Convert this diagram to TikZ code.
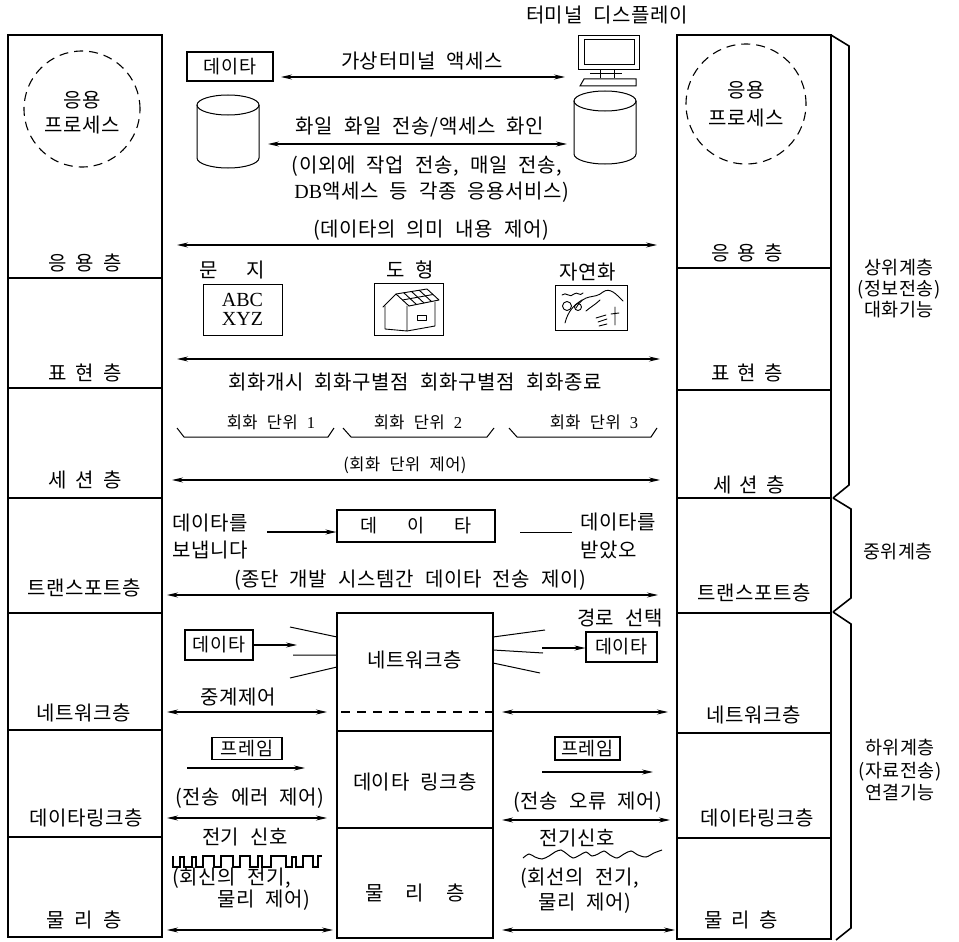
\documentclass[tikz,border=0pt]{standalone}
\usepackage{fontspec}
\setmainfont{Noto Sans CJK KR}[LetterSpace=3,WordSpace=2.2]
\newfontfamily\latinserif{Liberation Serif}
\usetikzlibrary{arrows.meta}
\begin{document}
\begin{tikzpicture}[x=1pt,y=-1pt,
  stack/.style={line width=1.6pt},
  thin/.style={line width=1pt},
  lbl/.style={inner sep=0pt, font=\fontsize{20}{22}\selectfont},
  small/.style={inner sep=0pt, font=\fontsize{16.5}{18}\selectfont},
  side/.style={inner sep=0pt, font=\fontsize{18.5}{20}\selectfont, align=center},
  tag/.style={draw, line width=1.1pt, inner sep=0pt, font=\fontsize{18.5}{20}\selectfont},
  conn/.style={line width=1.1pt, -{Stealth[length=11pt,width=5pt]}},
  dbl/.style={line width=1.1pt, {Stealth[length=11pt,width=5pt]}-{Stealth[length=11pt,width=5pt]}},
  proc/.style={line width=1.1pt, dash pattern=on 9pt off 6pt},
  sketch/.style={line width=0.9pt, line join=round, line cap=round}]
\useasboundingbox (0,0) rectangle (959,942);

% ---------- left protocol stack ----------
\draw[stack] (8,35) rectangle (162,937);
\foreach \yy in {278,388,498,613,730,837} \draw[stack] (8,\yy) -- (162,\yy);
\draw[proc] (82,109) circle[radius=58pt];
\node[lbl] (Lp1) at (82,100) {응용};
\node[lbl] (Lp2) at (82,125) {프로세스};
\node[lbl] (L7) at (85,263) {응\hspace{9pt}용\hspace{9pt}층};
\node[lbl] (L6) at (85,373) {표\hspace{9pt}현\hspace{9pt}층};
\node[lbl] (L5) at (85,480) {세\hspace{9pt}션\hspace{9pt}층};
\node[lbl] (L4) at (84,588) {트랜스포트층};
\node[lbl] (L3) at (84,713) {네트워크층};
\node[lbl] (L2) at (86,818) {데이타링크층};
\node[lbl] (L1) at (84,920) {물\hspace{10pt}리\hspace{10pt}층};

% ---------- right protocol stack ----------
\draw[stack] (677,35) rectangle (831,939);
\foreach \yy in {268,390,498,613,733,838} \draw[stack] (677,\yy) -- (831,\yy);
\draw[proc] (746,104) circle[radius=60pt];
\node[lbl] (Rp1) at (746,90) {응용};
\node[lbl] (Rp2) at (746,118) {프로세스};
\node[lbl] (R7) at (747,253) {응\hspace{8pt}용\hspace{8pt}층};
\node[lbl] (R6) at (747,373) {표\hspace{8pt}현\hspace{8pt}층};
\node[lbl] (R5) at (749,485) {세\hspace{8pt}션\hspace{8pt}층};
\node[lbl] (R4) at (754,593) {트랜스포트층};
\node[lbl] (R3) at (754,715) {네트워크층};
\node[lbl] (R2) at (757,818) {데이타링크층};
\node[lbl] (R1) at (741,920) {물\hspace{9pt}리\hspace{9pt}층};

% ---------- braces for the layer groups ----------
\draw[stack] (831,35) -- (849,46) -- (849,485) -- (833,498);
\draw[stack] (833,498) -- (851,509) -- (851,598) -- (833,612);
\draw[stack] (833,612) -- (851,624) -- (851,928) -- (836,940);
\node[side] (G1) at (899,289) {상위계층\\[1pt](정보전송)\\[1pt]대화기능};
\node[side] (G2) at (898,552) {중위계층};
\node[side] (G3) at (900,770) {하위계층\\[3pt](자료전송)\\[2pt]연결기능};

% ---------- application layer ----------
\node[lbl] (term) at (607,15) {터미널 디스플레이};
\draw[thin] (578,36) rectangle (639,70);
\draw[thin] (584,40) rectangle (634,65);
\draw[thin] (600,70) -- (600,78) (614,70) -- (614,78) (590,74) -- (622,74);
\draw[thin] (584,79) -- (636,79) -- (636,86) -- (580,86) -- cycle;

\node[tag, minimum width=86pt, minimum height=29pt] (tagA) at (230,66.5) {데이타};
\coordinate (a1l) at (281,77); \coordinate (a1r) at (565,77);
\draw[dbl] (a1l) -- (a1r);
\node[lbl] (t1) at (422,61) {가상터미널 액세스};

% file stores
\draw[thin] (228,105) ellipse[x radius=31pt, y radius=10pt];
\draw[thin] (197,105) -- (197,158) arc[start angle=180, end angle=360, x radius=31pt, y radius=10pt] -- (259,105);
\draw[thin] (605,101) ellipse[x radius=31pt, y radius=10pt];
\draw[thin] (574,101) -- (574,154) arc[start angle=180, end angle=360, x radius=31pt, y radius=10pt] -- (636,101);

\coordinate (a2l) at (268,144); \coordinate (a2r) at (567,144);
\draw[dbl] (a2l) -- (a2r);
\node[lbl] (t2) at (420,127) {화일 화일 전송/액세스 화인};
\node[lbl] (t3) at (427,166) {(이외에 작업 전송, 매일 전송,};
\node[lbl] (t4) at (432,192) {{\latinserif\addfontfeatures{LetterSpace=0}DB}액세스 등 각종 응용서비스)};
\node[lbl] (t5) at (431,230) {(데이타의 의미 내용 제어)};
\coordinate (a3l) at (177,245); \coordinate (a3r) at (657,245);
\draw[dbl] (a3l) -- (a3r);

% ---------- presentation layer ----------
\node[lbl] (c1) at (232,270) {문\hspace{28pt}지};
\node[lbl] (c2) at (410,270) {도\hspace{11pt}형};
\node[lbl] (c3) at (588,272) {자연화};
\draw[thin] (203,284) rectangle (282,335);
\node[inner sep=0pt, align=center, font=\latinserif\fontsize{20}{21}\selectfont\addfontfeatures{LetterSpace=0}] (abc) at (242.5,309) {ABC\\[-2pt]XYZ};

% house sketch
\draw[thin] (374,283) rectangle (443,335);
\draw[sketch] (383,307) -- (396,294) -- (409,306);
\draw[sketch] (385,306) -- (385,329) -- (407,331) -- (407,306);
\draw[sketch] (396,294) -- (427,289) -- (439,300) -- (409,306);
\draw[sketch] (407,331) -- (435,326) -- (435,302);
\draw[sketch] (417,315) rectangle (426,320);
\draw[sketch] (402.5,300) -- (433,294.5);
\draw[sketch] (403.75,292.75) -- (416.5,304.5) (411.5,291.5) -- (424,303) (419.25,290.25) -- (431.5,301.5);

% landscape sketch
\draw[thin] (555,285) rectangle (627,330);
\draw[sketch] (562,295) .. controls (566,291) and (570,299) .. (574,294) .. controls (577,291) and (580,297) .. (583,293);
\draw[sketch] (576,308) .. controls (585,292) and (594,300) .. (603,292) .. controls (610,287) and (616,294) .. (623,301);
\draw[sketch] (565,323) .. controls (568,311) and (574,305) .. (582,300);
\draw[sketch] (567,306) circle[radius=4.5pt];
\draw[sketch] (578,307) circle[radius=3.5pt];
\draw[sketch] (586,311) .. controls (592,306) and (596,304) .. (600,300);
\draw[sketch] (615,307) -- (615,325) (611,314) -- (619,313);
\draw[sketch] (596,318) -- (606,315) (598,322) -- (607,319) (599,326) -- (607,324);

\coordinate (a4l) at (177,359); \coordinate (a4r) at (660,359);
\draw[dbl] (a4l) -- (a4r);
\node[lbl] (t6) at (415,382) {회화개시 회화구별점 회화구별점 회화종료};

% ---------- session layer ----------
\draw[thin] (177,428) -- (184,437) -- (328,437) -- (334,428);
\draw[thin] (343,428) -- (351,437) -- (487,437) -- (494,428);
\draw[thin] (509,428) -- (517,437) -- (651,437) -- (657,428);
\node[small] (u1) at (271,422) {회화 단위 {\latinserif\addfontfeatures{LetterSpace=0}1}};
\node[small] (u2) at (418,422) {회화 단위 {\latinserif\addfontfeatures{LetterSpace=0}2}};
\node[small] (u3) at (594,422) {회화 단위 {\latinserif\addfontfeatures{LetterSpace=0}3}};
\node[small] (t7) at (405,465) {(회화 단위 제어)};
\coordinate (a5l) at (172,480); \coordinate (a5r) at (660,480);
\draw[dbl] (a5l) -- (a5r);

% ---------- transport layer ----------
\node[lbl, anchor=west] (s1) at (172,523) {데이타를};
\node[lbl, anchor=west] (s2) at (172,550) {보냅니다};
\node[tag, minimum width=158pt, minimum height=32pt] (seg) at (416,526) {데\hspace{30pt}이\hspace{30pt}타};
\coordinate (a6a) at (267,532);
\draw[conn] (a6a) -- (seg.west |- a6a);
\coordinate (a6b) at (520,532); \coordinate (a6c) at (572,532);
\draw[thin] (a6b) -- (a6c);
\node[lbl, anchor=west] (r1) at (580,522) {데이타를};
\node[lbl, anchor=west] (r2) at (580,550) {받았오};
\node[lbl] (t8) at (410,580) {(종단 개발 시스템간 데이타 전송 제이)};
\coordinate (a7l) at (167,595); \coordinate (a7r) at (658,595);
\draw[dbl] (a7l) -- (a7r);

% ---------- relay stack in the middle ----------
\draw[stack] (337,613) rectangle (493,938);
\draw[stack] (337,731) -- (493,731);
\draw[stack] (337,828) -- (493,828);
\draw[line width=1.2pt, dash pattern=on 9pt off 7pt] (341,712) -- (493,712);
\node[lbl] (M3) at (415,660) {네트워크층};
\node[lbl] (M2) at (415,782) {데이타 링크층};
\node[lbl] (M1) at (415,893) {물\hspace{22pt}리\hspace{22pt}층};

% ---------- network layer ----------
\node[tag, minimum width=68pt, minimum height=30pt] (pktL) at (219,645) {데이타};
\coordinate (a8) at (297,645);
\draw[conn] (pktL.east) -- (a8);
\draw[thin] (290,627) -- (337,637) (293,655) -- (337,655) (290,678) -- (337,667);
\draw[thin] (493,637) -- (545,630) (493,650) -- (543,653) (493,663) -- (540,673);
\node[lbl] (route) at (620,618) {경로 선택};
\node[tag, minimum width=71pt, minimum height=30pt] (pktR) at (621.5,647) {데이타};
\coordinate (a9) at (542,648);
\draw[conn] (a9) -- (pktR.west |- a9);
\node[lbl] (t9) at (238,697) {중계제어};
\coordinate (a10l) at (167,712); \coordinate (a10r) at (327,712);
\draw[dbl] (a10l) -- (a10r);
\coordinate (a11l) at (502,712); \coordinate (a11r) at (668,712);
\draw[dbl] (a11l) -- (a11r);

% ---------- data link layer ----------
\node[tag, minimum width=70pt, minimum height=22pt] (frL) at (247,748.5) {프레임};
\coordinate (a12a) at (187,768); \coordinate (a12b) at (305,768);
\draw[conn] (a12a) -- (a12b);
\node[lbl] (t10) at (250,798) {(전송 에러 제어)};
\coordinate (a13l) at (167,818); \coordinate (a13r) at (327,818);
\draw[dbl] (a13l) -- (a13r);

\node[tag, minimum width=65pt, minimum height=23pt] (frR) at (587.5,748.5) {프레임};
\coordinate (a14a) at (542,772); \coordinate (a14b) at (653,772);
\draw[conn] (a14a) -- (a14b);
\node[lbl] (t11) at (588,802) {(전송 오류 제어)};
\coordinate (a15l) at (502,820); \coordinate (a15r) at (670,820);
\draw[dbl] (a15l) -- (a15r);

% ---------- physical layer ----------
\node[lbl] (t12) at (245,837) {전기 신호};
\draw[line width=1.1pt, line join=miter]
  (173,856) -- (173,867) -- (180,867) -- (180,857) -- (184,857) -- (184,867) -- (192,867) -- (192,857)
  -- (196,857) -- (196,867) -- (203,867) -- (203,856) -- (214,856) -- (214,867) -- (221,867) -- (221,856)
  -- (233,856) -- (233,867) -- (240,867) -- (240,856) -- (250,856) -- (250,867) -- (258,867) -- (258,856)
  -- (262,856) -- (262,867) -- (271,867) -- (271,856) -- (286,856) -- (286,867) -- (292,867) -- (292,857)
  -- (296,857) -- (296,867) -- (303,867) -- (303,856) -- (313,856) -- (313,867) -- (318,867) -- (318,856) -- (322,856);
\node[lbl, anchor=west] (t13) at (172,878) {(회신의 전기,};
\node[lbl, anchor=west] (t14) at (217,900) {물리 제어)};
\coordinate (a16l) at (167,930); \coordinate (a16r) at (333,930);
\draw[dbl] (a16l) -- (a16r);

\node[lbl] (t15) at (577,838) {전기신호};
\draw[line width=1pt] plot[smooth] coordinates {(523,858) (529,854) (535,857) (542,859) (549,856) (555,852) (561,850) (567,854) (573,858) (580,855) (586,852) (592,856) (598,854) (604,851) (610,855) (617,858) (624,854) (631,851) (638,855) (646,857) (654,853) (662,850)};
\node[lbl, anchor=west] (t16) at (520,878) {(회선의 전기,};
\node[lbl, anchor=west] (t17) at (538,903) {물리 제어)};
\coordinate (a17l) at (502,930); \coordinate (a17r) at (675,930);
\draw[dbl] (a17l) -- (a17r);
\end{tikzpicture}
\end{document}
